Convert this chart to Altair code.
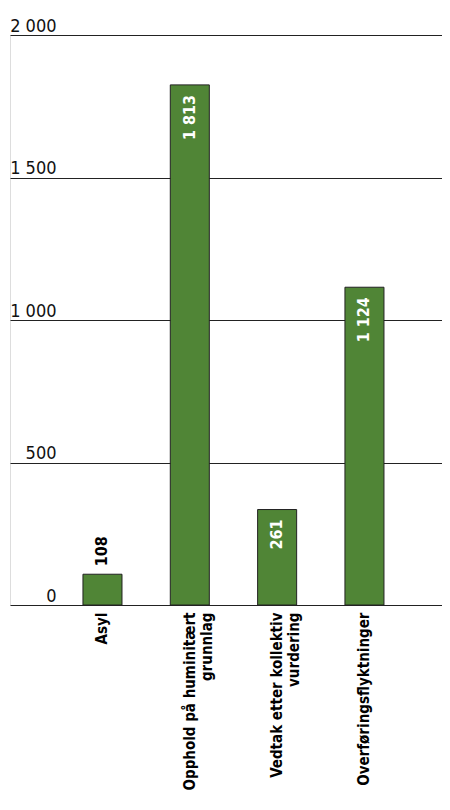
import altair as alt
import pandas as pd

categories = ["Asyl", "Opphold på huminitært|grunnlag", "Vedtak etter kollektiv|vurdering", "Overføringsflyktninger"]
bar_values = [108, 1825, 335, 1115]
value_labels = ["108", "1 813", "261", "1 124"]
label_inside = [False, True, True, True]
y_ticks = [0, 500, 1000, 1500, 2000]

df = pd.DataFrame({"cat": categories, "val": bar_values, "lab": value_labels, "inside": label_inside})

FONT = "DejaVu Sans Condensed, sans-serif"

x = alt.X("cat:N", sort=categories, title=None,
          scale=alt.Scale(paddingInner=0.553, paddingOuter=0.75, align=0.557),
          axis=alt.Axis(labelAngle=270, labelAlign="right", labelBaseline="middle",
                        labelPadding=7, labelFontWeight="bold", labelFontSize=15,
                        labelLineHeight=17, labelColor="#000", labelFont=FONT,
                        labelExpr="split(datum.label, '|')",
                        ticks=False, domain=False, grid=False, labelLimit=0))
y = alt.Y("val:Q", title=None, scale=alt.Scale(domain=[0, 2000], nice=False),
          axis=alt.Axis(values=y_ticks, grid=True, gridColor="#222", gridWidth=1,
                        gridOpacity=1, domain=False, ticks=False,
                        labelAlign="right", labelBaseline="alphabetic",
                        labelPadding=-46, labelOffset=-4, labelFontSize=18,
                        labelColor="#111", labelFont=FONT,
                        labelExpr="replace(format(datum.value, ','), ',', ' ')"))

base = alt.Chart(df)
bars = base.mark_bar(color="#508536", stroke="#222", strokeWidth=1).encode(x=x, y=y)
inside = base.transform_filter("datum.inside").mark_text(
    angle=270, align="right", baseline="middle", dx=-10, color="white",
    fontWeight="bold", fontSize=16, font=FONT).encode(x=x, y=y, text="lab:N")
outside = base.transform_filter("!datum.inside").mark_text(
    angle=270, align="left", baseline="middle", dx=8, color="black",
    fontWeight="bold", fontSize=16, font=FONT).encode(x=x, y=y, text="lab:N")

chart = alt.layer(bars, inside, outside).properties(
    width=432, height=570,
    autosize=alt.AutoSizeParams(type="none"),
    padding={"left": 2, "top": 27, "right": 0, "bottom": 193},
).configure_view(stroke=None).configure(font=FONT, background="white")

chart.save("out.html", embed_options={"renderer": "svg", "actions": False})
